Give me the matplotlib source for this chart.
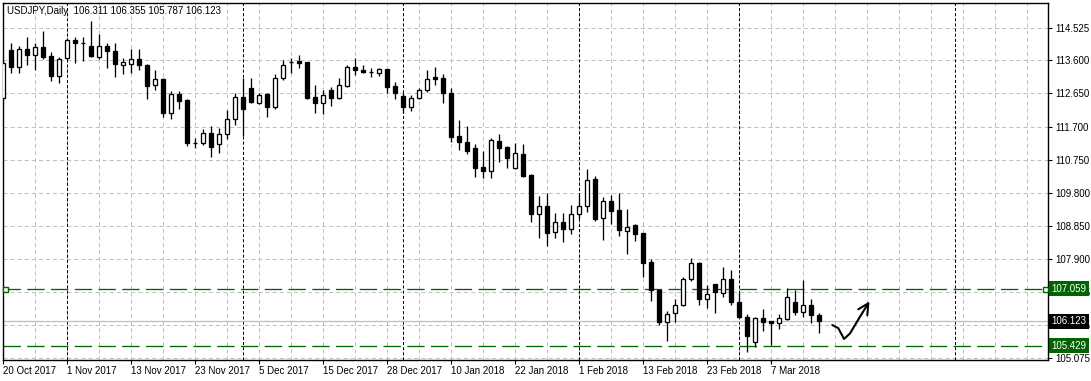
import matplotlib
matplotlib.use("Agg")
import matplotlib.pyplot as plt
import matplotlib.transforms as mtransforms
from matplotlib.patches import Rectangle

plt.rcParams['font.family'] = ['Liberation Sans', 'DejaVu Sans']
plt.rcParams['lines.scale_dashes'] = False

# ---- data (daily USDJPY) ----
symbol = "USDJPY,Daily"
opens = [112.52, 113.90, 113.41, 113.92, 113.75, 113.98, 113.72, 113.15, 113.67, 114.18,
         114.10, 114.01, 113.69, 114.01, 113.87, 113.47, 113.49, 113.64, 113.47, 112.89,
         113.06, 112.09, 112.64, 112.46, 111.23, 111.23, 111.52, 111.20, 111.49, 111.92,
         112.55, 112.81, 112.38, 112.64, 112.26, 113.09, 113.54, 113.58, 113.55, 112.55,
         112.38, 112.75, 112.52, 112.86, 113.41, 113.32, 113.27, 113.24, 113.35, 112.86,
         112.58, 112.26, 112.52, 112.75, 113.12, 113.09, 112.66, 111.43, 111.26, 111.09,
         110.55, 110.43, 111.29, 111.12, 110.52, 110.92, 110.32, 109.20, 109.43, 108.68,
         108.97, 108.77, 109.20, 109.43, 110.20, 109.08, 109.57, 109.31, 108.71, 108.88,
         108.65, 107.82, 107.02, 106.11, 106.36, 106.59, 107.34, 107.80, 106.77, 107.19,
         106.94, 107.34, 106.68, 106.25, 105.53, 106.22, 106.13, 106.08, 106.19, 106.68,
         106.39, 106.59, 106.311]
highs = [113.58, 114.10, 114.01, 114.27, 114.10, 114.44, 113.84, 113.69, 114.24, 114.27,
         114.27, 114.73, 114.35, 114.10, 114.10, 113.67, 113.92, 113.92, 113.49, 113.32,
         113.08, 112.72, 112.72, 112.48, 111.38, 111.63, 111.72, 111.66, 112.18, 112.66,
         113.09, 113.09, 112.66, 112.66, 113.21, 113.61, 113.67, 113.75, 113.56, 112.89,
         112.75, 112.84, 113.09, 113.47, 113.67, 113.47, 113.38, 113.38, 113.36, 112.98,
         112.66, 112.61, 112.81, 113.32, 113.41, 113.21, 112.81, 111.89, 111.72, 111.20,
         111.00, 111.38, 111.49, 111.15, 111.23, 111.20, 110.33, 109.71, 109.80, 109.23,
         109.23, 109.46, 109.77, 110.49, 110.29, 109.69, 109.74, 109.80, 109.34, 108.91,
         108.66, 107.91, 107.03, 106.42, 106.77, 107.39, 107.94, 107.81, 107.17, 107.20,
         107.68, 107.60, 106.97, 106.34, 106.25, 106.48, 106.14, 106.34, 107.08, 107.02,
         107.31, 106.77, 106.355]
lows = [112.49, 113.24, 113.24, 113.47, 113.32, 113.64, 113.01, 112.95, 113.61, 113.52,
        113.58, 113.69, 113.64, 113.38, 113.12, 113.21, 113.24, 113.32, 112.49, 112.75,
        111.98, 111.92, 112.21, 111.15, 111.09, 111.17, 110.83, 110.95, 111.35, 111.75,
        111.43, 112.38, 112.36, 111.98, 112.21, 113.04, 113.24, 113.38, 112.49, 112.09,
        112.06, 112.29, 112.49, 112.84, 113.18, 113.24, 113.12, 113.15, 112.66, 112.49,
        112.09, 112.15, 112.49, 112.69, 112.89, 112.38, 111.26, 111.03, 110.92, 110.26,
        110.23, 110.23, 110.69, 110.52, 110.50, 110.26, 108.97, 108.51, 108.28, 108.51,
        108.40, 108.63, 109.06, 109.26, 109.00, 108.45, 108.91, 108.57, 108.05, 108.43,
        107.39, 106.71, 106.02, 105.56, 106.11, 106.56, 107.28, 106.59, 106.51, 106.36,
        106.82, 106.59, 106.22, 105.25, 105.39, 105.85, 105.45, 105.91, 106.16, 106.31,
        106.25, 106.08, 105.787]
closes = [113.52, 113.41, 113.92, 113.75, 113.98, 113.69, 113.15, 113.64, 114.18, 114.10,
          114.11, 113.72, 114.01, 113.87, 113.49, 113.55, 113.64, 113.47, 112.86, 113.06,
          112.09, 112.64, 112.43, 111.23, 111.24, 111.52, 111.12, 111.49, 111.92, 112.55,
          112.21, 112.41, 112.61, 112.26, 113.09, 113.47, 113.56, 113.52, 112.52, 112.38,
          112.61, 112.52, 112.89, 113.41, 113.32, 113.27, 113.26, 113.35, 112.84, 112.66,
          112.26, 112.52, 112.75, 113.06, 113.06, 112.66, 111.40, 111.26, 111.00, 110.52,
          110.43, 111.32, 111.09, 110.80, 110.95, 110.29, 109.20, 109.43, 108.65, 108.97,
          108.77, 109.20, 109.43, 110.17, 109.06, 109.57, 109.28, 108.74, 108.83, 108.63,
          107.80, 107.02, 106.11, 106.34, 106.59, 107.34, 107.80, 106.77, 106.91, 106.97,
          107.34, 106.68, 106.25, 105.70, 106.22, 106.11, 106.08, 106.22, 106.82, 106.39,
          106.59, 106.31, 106.123]

date_labels = ["20 Oct 2017", "1 Nov 2017", "13 Nov 2017", "23 Nov 2017", "5 Dec 2017",
               "15 Dec 2017", "28 Dec 2017", "10 Jan 2018", "22 Jan 2018", "1 Feb 2018",
               "13 Feb 2018", "23 Feb 2018", "7 Mar 2018"]
label_every = 8
month_starts = [8, 30, 50, 72, 92, 119]
price_ticks = [114.525, 113.600, 112.650, 111.700, 110.750, 109.800,
               108.850, 107.900, 106.975, 106.025, 105.075]
resistance = 107.059
support = 105.429
bid = 106.123

# hand drawn arrow (bar, price)
arrow_x = [103.66, 104.41, 105.13, 105.88, 107.13, 108.16]
arrow_y = [106.02, 105.93, 105.62, 105.78, 106.26, 106.64]
barb_x = [106.91, 108.16, 108.04]
barb_y = [106.47, 106.64, 106.30]

# ---- figure ----
W, H = 1091, 381
fig = plt.figure(figsize=(W / 100, H / 100), dpi=100)
ax = fig.add_axes([3 / W, 21 / H, 1045 / W, 357 / H])
ax.set_xlim(0, 1045 / 8)
ax.set_ylim(105.018, 115.241)

px = 0.72  # one pixel in points
grid_c = '#C0C0C0'
green = '#006400'

for k in range(0, 132, 4):
    ax.axvline(k, color=grid_c, lw=px, dashes=(2.9, 2.2), zorder=0)
for p in price_ticks:
    ax.axhline(p, color=grid_c, lw=px, dashes=(2.9, 2.2), zorder=0)
for m in month_starts:
    ax.axvline(m, color='black', lw=px, dashes=(2.2, 1.5), zorder=0.5)

ax.axhline(bid, color='#C0C0C0', lw=px * 1.3, zorder=0.6)
ax.axhline(resistance, color=green, lw=px * 1.3, dashes=(12.5, 4.6), zorder=0.7)
ax.axhline(support, color=green, lw=px * 1.3, dashes=(12.5, 4.6), zorder=0.7)
ax.plot([0.28, 130.3], [resistance, resistance], 's', ms=3.6, mfc='white',
        mec=green, mew=1.0, clip_on=False, zorder=5)

# candles
w = 0.62
for i in range(len(opens)):
    o, h, l, c = opens[i], highs[i], lows[i], closes[i]
    ax.vlines(i, l, h, color='black', lw=px * 1.3, zorder=2)
    if abs(c - o) < 0.02:
        ax.hlines((o + c) / 2, i - w / 2, i + w / 2, color='black', lw=px * 1.3, zorder=3)
    else:
        fc = 'white' if c > o else 'black'
        ax.add_patch(Rectangle((i - w / 2, min(o, c)), w, abs(c - o), facecolor=fc,
                               edgecolor='black', lw=px * 1.3, zorder=3))

# arrow
ax.plot(arrow_x, arrow_y, color='black', lw=1.5, solid_joinstyle='round',
        solid_capstyle='round', zorder=6)
ax.plot(barb_x, barb_y, color='black', lw=1.5, solid_joinstyle='round',
        solid_capstyle='round', zorder=6)

# axes
for s in ax.spines.values():
    s.set_color('black')
    s.set_linewidth(1.0)
ax.yaxis.tick_right()
ax.set_yticks(price_ticks)
ax.set_yticklabels([f"{p:.3f}" for p in price_ticks])
ax.set_xticks([k * label_every for k in range(len(date_labels))])
ax.set_xticklabels(date_labels, ha='left')
ax.tick_params(axis='both', length=3, width=0.8, labelsize=7, colors='black')
ax.tick_params(axis='x', pad=1.5)
ax.tick_params(axis='y', pad=2.5)

trans = mtransforms.blended_transform_factory(ax.transAxes, ax.transData)
for val, bg in [(resistance, green), (bid, 'black'), (support, green)]:
    ax.text(1.0035, val, f"{val:.3f}", transform=trans, ha='left', va='center',
            fontsize=7, color='white', clip_on=False, zorder=10,
            bbox=dict(boxstyle='square,pad=0.28', fc=bg, ec='none'))

ax.text(0.004, 0.978, f"{symbol}  {opens[-1]:.3f} {highs[-1]:.3f} {lows[-1]:.3f} {closes[-1]:.3f}",
        transform=ax.transAxes, ha='left', va='center', fontsize=7, color='black')

fig.savefig('out.png', dpi=100, facecolor='white')
